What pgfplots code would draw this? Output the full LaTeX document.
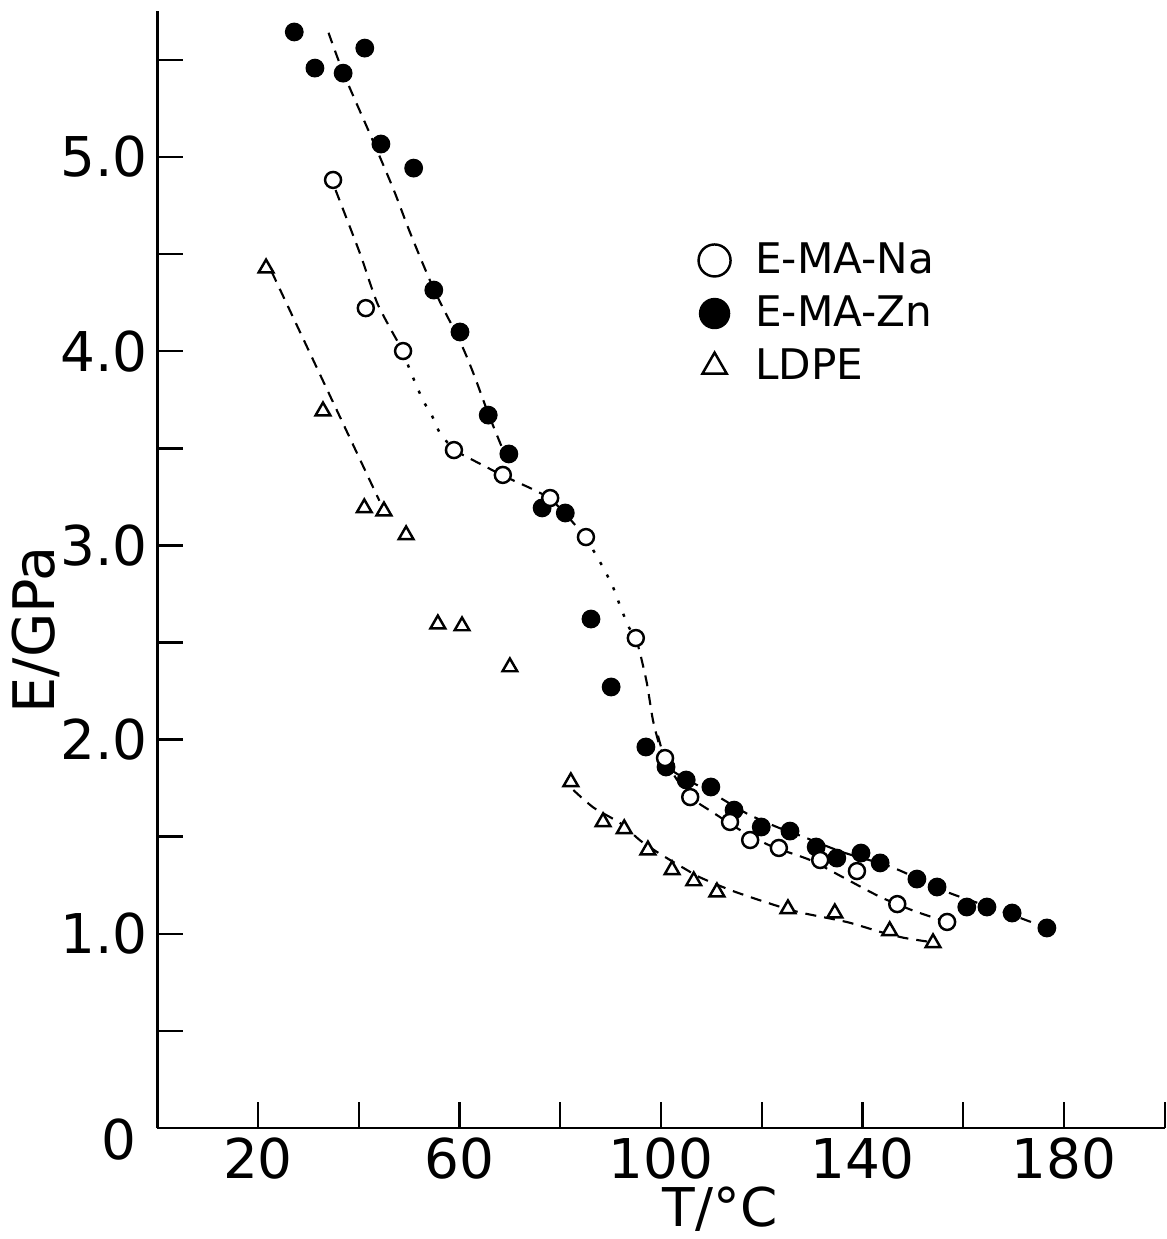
\documentclass[border=0pt]{standalone}
\usepackage{pgfplots}
\pgfplotsset{compat=1.18}
\usepackage{fontspec}
\setmainfont{DejaVu Sans}
\begin{document}
\begin{tikzpicture}
\begin{axis}[
  name=ax, scale only axis, width=10.075cm, height=11.166cm,
  xmin=0, xmax=200, ymin=0, ymax=5.75,
  axis x line*=bottom, axis y line*=left,
  axis line style={line width=0.8pt, -},
  xtick pos=left, ytick pos=left,
  tick align=inside, major tick length=0.26cm,
  tick style={line width=0.7pt, black},
  xtick={20,40,60,80,100,120,140,160,180,200},
  xticklabels={20,,60,,100,,140,,180,},
  ytick={0.5,1,1.5,2,2.5,3,3.5,4,4.5,5,5.5},
  yticklabels={,1.0,,2.0,,3.0,,4.0,,5.0,},
  extra y ticks={0}, extra y tick labels={0},
  extra y tick style={yticklabel style={yshift=-0.12cm, xshift=-0.11cm}},
  tick label style={font=\fontsize{15.6}{18}\selectfont, inner sep=0pt},
  /pgf/number format/assume math mode=true,
  xticklabel shift=0.09cm, yticklabel shift=0.09cm,
  xlabel={T/°C}, ylabel={E/GPa},
  xlabel style={at={(axis description cs:0.5586,-0.0878)}, anchor=base, font=\fontsize{15.2}{18}\selectfont, inner sep=0pt},
  ylabel style={at={(axis description cs:-0.1015,0.446)}, anchor=base, font=\fontsize{16.3}{19}\selectfont, inner sep=0pt},
  clip=false,
  legend style={draw=none, fill=none, at={(axis cs:104.4,4.60)}, anchor=north west,
    font=\fontsize{12}{14}\selectfont, row sep=0.03cm, inner sep=0pt},
  legend cell align=left,
  legend image code/.code={\draw[#1] plot coordinates {(0.3cm,0cm)}; \path (0cm,0cm) (0.63cm,0cm);},
]
% legend
\addlegendimage{only marks, mark=*, mark size=0.16cm, mark options={fill=white, draw=black, line width=0.7pt}}
\addlegendentry{E-MA-Na}
\addlegendimage{only marks, mark=*, mark size=0.15cm, black}
\addlegendentry{E-MA-Zn}
\addlegendimage{only marks, mark=triangle*, mark size=0.14cm, mark options={fill=white, draw=black, line width=0.7pt}}
\addlegendentry{LDPE}

% dashed / dotted guide lines
\addplot[black, line width=0.6pt, dash pattern=on 0.11cm off 0.08cm, smooth, tension=0.5, forget plot] coordinates {
(34,5.64) (37,5.43) (42.2,5.12) (46.8,4.84) (50.2,4.61) (54.9,4.32) (60.1,4.05) (62.7,3.89) (65.7,3.68) (68.5,3.50)};
\addplot[black, line width=0.6pt, dash pattern=on 0.11cm off 0.08cm, smooth, tension=0.5, forget plot] coordinates {
(99.4,2.02) (101,1.88) (102.8,1.83) (111.1,1.71) (117,1.62) (123,1.55) (128.2,1.50) (136.1,1.42) (146.1,1.34) (156.8,1.215) (167.3,1.12) (176.6,1.03)};
\addplot[black, line width=0.6pt, dash pattern=on 0.11cm off 0.08cm, smooth, tension=0.4, forget plot] coordinates {
(35.4,4.83) (40.3,4.50) (43.8,4.24) (48.8,4.00)};
\addplot[black, line width=0.7pt, dash pattern=on 0.9pt off 0.11cm, smooth, tension=0.4, forget plot] coordinates {
(48.8,4.00) (50.2,3.90) (52.7,3.75) (54.5,3.67) (56.1,3.58) (58.9,3.49)};
\addplot[black, line width=0.6pt, dash pattern=on 0.11cm off 0.08cm, smooth, tension=0.4, forget plot] coordinates {
(58.9,3.49) (68.6,3.36) (78.0,3.24) (85.1,3.04)};
\addplot[black, line width=0.7pt, dash pattern=on 0.9pt off 0.11cm, smooth, tension=0.4, forget plot] coordinates {
(85.1,3.04) (88.0,2.91) (90.4,2.79) (92.0,2.68) (93.6,2.58) (95.0,2.52)};
\addplot[black, line width=0.6pt, dash pattern=on 0.11cm off 0.08cm, smooth, tension=0.4, forget plot] coordinates {
(95.0,2.52) (95.8,2.45) (97.2,2.29) (98.4,2.10) (99.8,1.96) (100.8,1.905)};
\addplot[black, line width=0.6pt, dash pattern=on 0.11cm off 0.08cm, smooth, tension=0.4, forget plot] coordinates {
(100.8,1.90) (103,1.80) (106,1.70) (110,1.63) (116,1.53) (122,1.45) (129.6,1.38) (136.2,1.29) (143.5,1.19) (150,1.12) (156.8,1.06)};
\addplot[black, line width=0.6pt, dash pattern=on 0.11cm off 0.08cm, forget plot] coordinates {
(22.7,4.41) (44.1,3.23)};
\addplot[black, line width=0.6pt, dash pattern=on 0.11cm off 0.08cm, smooth, tension=0.4, forget plot] coordinates {
(82.6,1.74) (86.6,1.65) (91.9,1.57) (95.9,1.48) (99.9,1.41) (104.4,1.34) (107.8,1.29) (114.3,1.22) (122.3,1.15) (127.6,1.11) (137,1.06) (143.5,1.01) (148.1,0.98) (152.9,0.96)};

% E-MA-Zn
\addplot[only marks, mark=*, mark size=0.087cm, black, forget plot] coordinates {
(27.2,5.644) (31.3,5.458) (36.9,5.432) (41.2,5.561) (44.4,5.067) (50.9,4.943) (54.9,4.315) (60.1,4.099)
(65.7,3.671) (69.8,3.471) (76.4,3.193) (81.0,3.167) (86.1,2.621) (90.1,2.271) (97.0,1.962) (101.0,1.859)
(105.0,1.792) (109.9,1.756) (114.5,1.637) (119.9,1.550) (125.6,1.529) (130.8,1.447) (134.9,1.390) (139.7,1.416)
(143.5,1.365) (150.8,1.282) (154.8,1.241) (160.7,1.138) (164.7,1.138) (169.7,1.107) (176.6,1.030)};
% E-MA-Na
\addplot[only marks, mark=*, mark size=0.08cm, mark options={fill=white, draw=black, line width=0.7pt}, forget plot] coordinates {
(34.9,4.882) (41.4,4.222) (48.8,4.001) (58.9,3.491) (68.6,3.363) (78.0,3.244) (85.1,3.043) (95.0,2.523)
(100.8,1.905) (105.8,1.704) (113.7,1.576) (117.7,1.483) (123.4,1.442) (131.6,1.380) (138.9,1.323) (146.9,1.153) (156.8,1.061)};
% LDPE
\addplot[only marks, mark=triangle*, mark size=0.085cm, mark options={fill=white, draw=black, line width=0.7pt}, forget plot] coordinates {
(21.6,4.428) (32.9,3.692) (41.1,3.193) (45.0,3.177) (49.4,3.054) (55.7,2.595) (60.5,2.585) (70.0,2.374)
(82.1,1.782) (88.5,1.576) (92.7,1.540) (97.4,1.431) (102.2,1.329) (106.5,1.272) (111.1,1.215) (125.2,1.128)
(134.5,1.107) (145.4,1.015) (154.0,0.953)};
\end{axis}
\pgfresetboundingbox
\useasboundingbox ([xshift=-1.5725cm, yshift=-1.11cm]ax.south west) rectangle ([xshift=0.0125cm, yshift=0.114cm]ax.north east);
\end{tikzpicture}
\end{document}
